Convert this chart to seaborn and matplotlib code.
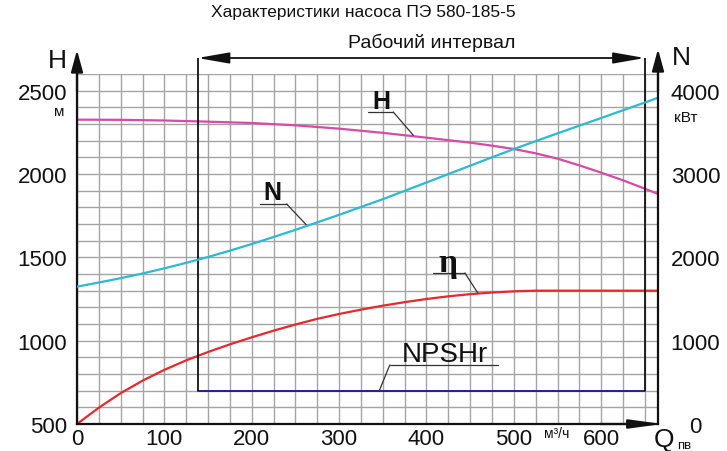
import numpy as np
import pandas as pd
import matplotlib
matplotlib.use("Agg")
import matplotlib.pyplot as plt
import matplotlib.transforms as mtrans
import seaborn as sns

# ---------------- data ----------------
title = "Характеристики насоса ПЭ 580-185-5"
work_label = "Рабочий интервал"

q_h = [0, 50, 100, 150, 200, 250, 300, 350, 400, 450, 475, 500, 525, 550, 575, 600, 625, 650, 665]
h_vals = [2326, 2325, 2321, 2314, 2306, 2292, 2272, 2247, 2218, 2188, 2170, 2150, 2124, 2092, 2052,
          2008, 1962, 1912, 1880]

q_n = [0, 25, 50, 75, 100, 125, 150, 175, 200, 225, 250, 300, 350, 400, 450, 500, 550, 600, 650, 665]
n_vals = [1648, 1698, 1750, 1806, 1868, 1934, 2004, 2080, 2160, 2244, 2330, 2510, 2698, 2898, 3100,
          3300, 3488, 3672, 3858, 3915]

q_eta = [0, 25, 50, 75, 100, 125, 150, 175, 200, 225, 250, 275, 300, 325, 350, 375, 400, 425, 450,
         475, 500, 525, 550, 600, 665]
eta_vals = [500, 598, 685, 760, 825, 882, 932, 978, 1020, 1060, 1097, 1131, 1160, 1186, 1210, 1231,
            1250, 1266, 1279, 1289, 1296, 1300, 1300, 1300, 1300]

npshr_q = [138, 650]
npshr_vals = [700, 700]

work_q = [138, 650]

x_ticks = [0, 100, 200, 300, 400, 500, 600]
h_ticks = [500, 1000, 1500, 2000, 2500]
n_ticks = [0, 1000, 2000, 3000, 4000]

# ---------------- style ----------------
sns.set_theme(style="white")
plt.rcParams['font.family'] = ['Liberation Sans', 'DejaVu Sans']

W, H = 727, 452
fig = plt.figure(figsize=(W / 100, H / 100), dpi=100)
L, R, T, B = 77, 658, 75, 425
ax = fig.add_axes([L / W, 1 - B / H, (R - L) / W, (B - T) / H])

XMAX = 665
YMIN, YMAX = 500, 2600
ax.set_xlim(0, XMAX)
ax.set_ylim(YMIN, YMAX)

# grid
ax.set_xticks(x_ticks)
ax.set_xticks(np.arange(0, 651, 25), minor=True)
ax.set_yticks(h_ticks)
ax.set_yticks(np.arange(500, 2601, 100), minor=True)
ax.grid(True, which='both', color='#a4a4a4', linewidth=1.0)
ax.set_axisbelow(True)
ax.tick_params(which='both', length=0)
ax.tick_params(axis='y', labelsize=16, pad=7, colors='#111111')
ax.tick_params(axis='x', labelsize=16, pad=3, colors='#111111')

for s in ['top', 'right']:
    ax.spines[s].set_visible(False)
for s in ['left', 'bottom']:
    ax.spines[s].set_color('#111111')
    ax.spines[s].set_linewidth(1.6)

col_h = '#d64aa8'
col_n = '#2bbad2'
col_eta = '#e8282c'
col_np = '#22228a'

df_h = pd.DataFrame({'Q': q_h, 'H': h_vals})
df_eta = pd.DataFrame({'Q': q_eta, 'eta': eta_vals})
df_np = pd.DataFrame({'Q': npshr_q, 'NPSHr': npshr_vals})
df_n = pd.DataFrame({'Q': q_n, 'N': n_vals})

sns.lineplot(data=df_h, x='Q', y='H', ax=ax, color=col_h, linewidth=1.6)
sns.lineplot(data=df_eta, x='Q', y='eta', ax=ax, color=col_eta, linewidth=1.6)
sns.lineplot(data=df_np, x='Q', y='NPSHr', ax=ax, color=col_np, linewidth=1.4)
ax.set_xlabel('')
ax.set_ylabel('')

# working interval verticals & arrow
top_frac = (B - 59) / (B - T)
top_data = YMIN + top_frac * (YMAX - YMIN)
ax.vlines(work_q, npshr_vals[0], top_data, colors='#111111', linewidth=1.3, clip_on=False, zorder=5)
blend = mtrans.blended_transform_factory(ax.transData, ax.transAxes)
ax.annotate('', xy=(work_q[1], top_frac), xytext=(work_q[0], top_frac),
            xycoords=blend, textcoords=blend,
            arrowprops=dict(arrowstyle='<|-|>,head_length=1.6,head_width=0.28',
                            color='#111111', lw=1.3, shrinkA=0, shrinkB=0))
ax.text((work_q[0] + work_q[1]) / 2 + 12, (B - 43) / (B - T), work_label, transform=blend,
        ha='center', va='center', fontsize=14, color='#111111')

# twin axis for N
ax2 = ax.twinx()
sns.lineplot(data=df_n, x='Q', y='N', ax=ax2, color=col_n, linewidth=1.6)
ax2.set_ylim(0, (YMAX - YMIN) * 2)
ax2.set_xlim(0, XMAX)
ax2.set_yticks(n_ticks)
ax2.set_ylabel('')
ax2.set_xlabel('')
ax2.grid(False)
ax2.tick_params(which='both', length=0, labelsize=16, pad=27, colors='#111111')
for lab in ax2.get_yticklabels():
    lab.set_horizontalalignment('center')
for s in ['top', 'left', 'bottom']:
    ax2.spines[s].set_visible(False)
ax2.spines['right'].set_color('#111111')
ax2.spines['right'].set_linewidth(1.6)

# axis arrows
arr_kw = dict(color='#111111', lw=1.6, shrinkA=0, shrinkB=0)
ax.annotate('', xy=(0, (B - 51) / (B - T)), xytext=(0, 0.95), xycoords='axes fraction',
            arrowprops=dict(arrowstyle='-|>,head_length=1.1,head_width=0.3', **arr_kw))
ax.annotate('', xy=(1, (B - 50) / (B - T)), xytext=(1, 0.95), xycoords='axes fraction',
            arrowprops=dict(arrowstyle='-|>,head_length=1.1,head_width=0.3', **arr_kw))
ax.annotate('', xy=((662 - L) / (R - L), 0), xytext=(0.9, 0), xycoords='axes fraction',
            arrowprops=dict(arrowstyle='-|>,head_length=1.6,head_width=0.22', **arr_kw))

# curve labels with underline + leader
lead_kw = dict(color='#333333', linewidth=0.9, zorder=6)

ax.text(348, 2440, 'H', ha='center', va='center', fontsize=18, fontweight='bold', color='#111111', zorder=7)
ax.plot([333, 362], [2372, 2372], **lead_kw)
ax.plot([362, 385], [2372, 2232], **lead_kw)

ax.text(224, 1890, 'N', ha='center', va='center', fontsize=18, fontweight='bold', color='#111111', zorder=7)
ax.plot([209, 240], [1820, 1820], **lead_kw)
ax.plot([240, 263], [1820, 1692], **lead_kw)

ax.text(425, 1470, 'η', ha='center', va='center', fontsize=24, fontweight='bold',
        family=['Liberation Serif', 'DejaVu Serif'], color='#111111', zorder=7)
ax.plot([407, 444], [1406, 1406], **lead_kw)
ax.plot([444, 459], [1406, 1284], **lead_kw)

ax.text(421, 922, 'NPSHr', ha='center', va='center', fontsize=20, color='#111111', zorder=7)
ax.plot([358, 482], [854, 854], **lead_kw)
ax.plot([358, 346], [854, 700], **lead_kw)

# outside texts
def ftext(px, py, s, **kw):
    fig.text(px / W, 1 - py / H, s, ha='center', va='center', color='#111111', **kw)

ftext(363, 13, title, fontsize=12.5)
ftext(57, 61, 'H', fontsize=19)
ftext(59, 112, 'м', fontsize=11)
ftext(681, 58, 'N', fontsize=19)
ftext(686, 118, 'кВт', fontsize=11)
ftext(557, 434, 'м³/ч', fontsize=10)
ftext(664, 440, 'Q', fontsize=19)
ftext(684, 446, 'пв', fontsize=9.5)

fig.savefig('out.png', dpi=100, facecolor='white')
